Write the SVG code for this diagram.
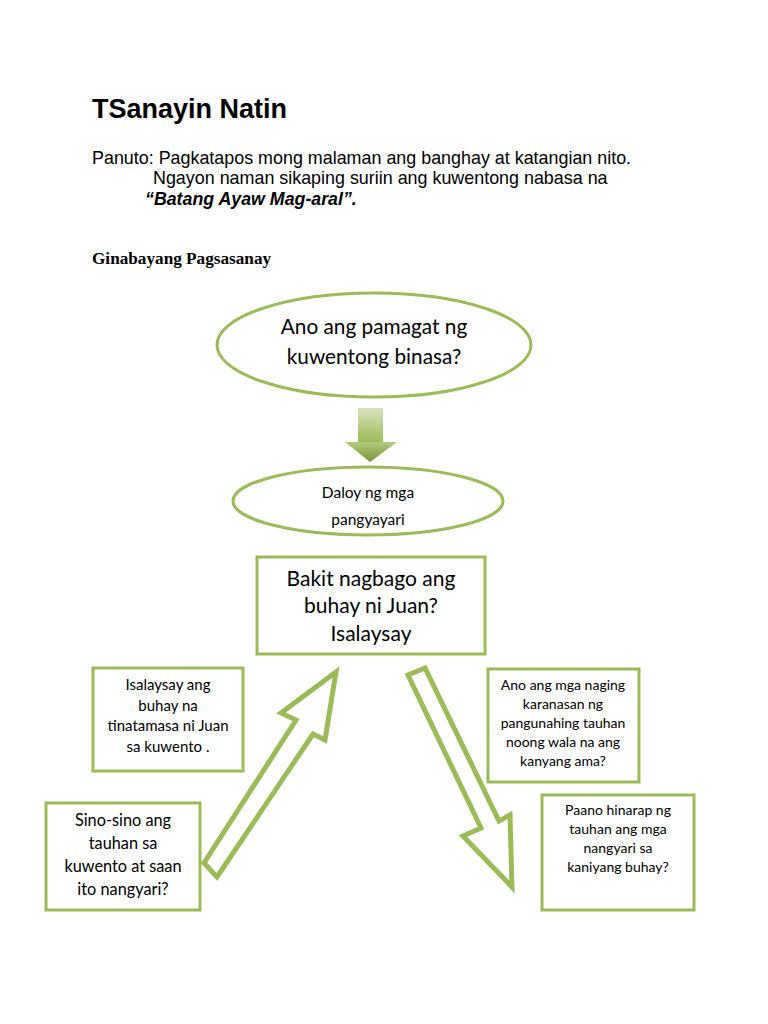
<svg xmlns="http://www.w3.org/2000/svg" width="768" height="1024" viewBox="0 0 768 1024">
<defs>
<linearGradient id="shaftG" x1="0" y1="0" x2="0" y2="1">
<stop offset="0" stop-color="#d7e4bd"/>
<stop offset="1" stop-color="#9bbb59"/>
</linearGradient>
<linearGradient id="headG" x1="0" y1="0" x2="0" y2="1">
<stop offset="0" stop-color="#b3cc7a"/>
<stop offset="1" stop-color="#77933c"/>
</linearGradient>
<style>
.ell{fill:#ffffff;stroke:#9bbb59;stroke-width:3}
.box{fill:#ffffff;stroke:#9bbb59;stroke-width:3}
.harrow{fill:#ffffff;stroke:#9bbb59;stroke-width:5;stroke-linejoin:miter}
.c{font-family:Lato,"Open Sans","DejaVu Sans",sans-serif;fill:#000000;text-anchor:middle}
.a{font-family:"Liberation Sans",Arial,sans-serif;fill:#000000}
</style>
</defs>
<rect width="768" height="1024" fill="#ffffff"/>

<g id="header">
<text class="a" x="92" y="118" font-size="27" font-weight="bold">TSanayin Natin</text>
<text class="a" x="92" y="164" font-size="17.9">Panuto: Pagkatapos mong malaman ang banghay at katangian nito.</text>
<text class="a" x="153" y="184" font-size="17.9">Ngayon naman sikaping suriin ang kuwentong nabasa na</text>
<text class="a" x="145" y="205" font-size="17.8" font-weight="bold" font-style="italic">“Batang Ayaw Mag-aral”.</text>
<text x="92" y="264" font-size="17.2" font-weight="bold" font-family="'Liberation Serif','Times New Roman',serif">Ginabayang Pagsasanay</text>
</g>

<g id="connectors">
<g id="arrow-down-green">
<rect x="358" y="408" width="25" height="34" fill="url(#shaftG)"/>
<polygon points="345,442 397,442 370,462" fill="url(#headG)"/>
</g>
<polygon id="arrow-up" class="harrow" points="336,672 325,740 313,734 217,877 204,863 296,720 281,713"/>
<polygon id="arrow-down" class="harrow" points="408,675 425,668 499,821 510,815 512,887 463,836 481,828"/>
</g>

<g id="node-pamagat">
<ellipse class="ell" cx="374" cy="345" rx="157" ry="52"/>
<text class="c" x="374" y="334" font-size="20.8">Ano ang pamagat ng</text>
<text class="c" x="374" y="364" font-size="20.8">kuwentong binasa?</text>
</g>

<g id="node-daloy">
<ellipse class="ell" cx="368" cy="501" rx="135" ry="34"/>
<text class="c" x="368" y="498" font-size="15.5">Daloy ng mga</text>
<text class="c" x="368" y="525" font-size="15.5">pangyayari</text>
</g>

<g id="node-bakit">
<rect class="box" x="257" y="557" width="228" height="97"/>
<text class="c" x="371" y="586" font-size="21">Bakit nagbago ang</text>
<text class="c" x="371" y="613" font-size="21">buhay ni Juan?</text>
<text class="c" x="371" y="641" font-size="21">Isalaysay</text>
</g>

<g id="node-isalaysay">
<rect class="box" x="93" y="668" width="150" height="103"/>
<text class="c" x="168" y="690" font-size="15">Isalaysay ang</text>
<text class="c" x="168" y="711" font-size="15">buhay na</text>
<text class="c" x="168" y="731" font-size="15">tinatamasa ni Juan</text>
<text class="c" x="168" y="752" font-size="15">sa kuwento .</text>
</g>

<g id="node-sino">
<rect class="box" x="46" y="803" width="154" height="107"/>
<text class="c" x="123" y="826" font-size="16.3">Sino-sino ang</text>
<text class="c" x="123" y="849" font-size="16.3">tauhan sa</text>
<text class="c" x="123" y="872" font-size="16.3">kuwento at saan</text>
<text class="c" x="123" y="895" font-size="16.3">ito nangyari?</text>
</g>

<g id="node-karanasan">
<rect class="box" x="488" y="669" width="151" height="113"/>
<text class="c" x="563" y="690" font-size="14">Ano ang mga naging</text>
<text class="c" x="563" y="709" font-size="14">karanasan ng</text>
<text class="c" x="563" y="728" font-size="14">pangunahing tauhan</text>
<text class="c" x="563" y="747" font-size="14">noong wala na ang</text>
<text class="c" x="563" y="766" font-size="14">kanyang ama?</text>
</g>

<g id="node-paano">
<rect class="box" x="542" y="795" width="152" height="115"/>
<text class="c" x="618" y="815" font-size="14">Paano hinarap ng</text>
<text class="c" x="618" y="834" font-size="14">tauhan ang mga</text>
<text class="c" x="618" y="853" font-size="14">nangyari sa</text>
<text class="c" x="618" y="872" font-size="14">kaniyang buhay?</text>
</g>
</svg>
